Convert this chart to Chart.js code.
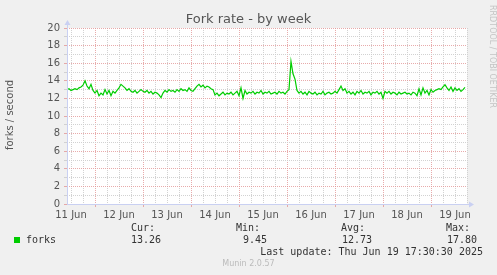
<!DOCTYPE html>
<html>
<head>
<meta charset="utf-8">
<title>Fork rate - by week</title>
<script src="https://cdn.jsdelivr.net/npm/chart.js@4.4.1/dist/chart.umd.min.js"></script>
<style>
    body { margin: 0; background: #f0f0f0; }
    #wrap { position: relative; width: 497px; height: 275px; overflow: hidden; font-family: "DejaVu Sans", sans-serif; }
    #forkChart { position: absolute; left: 0; top: 0; }
    .txt { position: absolute; white-space: pre; }
    .mono { font-family: "DejaVu Sans Mono", monospace; font-size: 10px; color: #333; line-height: 12px; }
    .r { text-align: right; }
</style>
</head>
<body>
<div id="wrap">
    <canvas id="forkChart" width="497" height="275"></canvas>
    <div class="txt" style="left:0;width:497px;top:11px;text-align:center;font-size:13px;color:#555;line-height:16px;">Fork rate - by week</div>
    <div class="txt" style="left:10px;top:115px;font-size:10px;color:#555;line-height:12px;transform:translate(-50%,-50%) rotate(-90deg);">forks / second</div>
    <div class="txt" style="left:487px;top:5px;font-size:8px;color:#c4c4c4;line-height:10px;writing-mode:vertical-rl;">RRDTOOL / TOBI OETIKER</div>

    <div class="txt" style="left:14px;top:237px;width:6px;height:6px;background:#00cc00;"></div>
    <div class="txt mono" style="left:26px;top:234px;">forks</div>
    <div class="txt mono r" style="right:342px;top:222px;">Cur:</div>
    <div class="txt mono r" style="right:336px;top:234px;">13.26</div>
    <div class="txt mono r" style="right:237px;top:222px;">Min:</div>
    <div class="txt mono r" style="right:230px;top:234px;">9.45</div>
    <div class="txt mono r" style="right:132px;top:222px;">Avg:</div>
    <div class="txt mono r" style="right:125px;top:234px;">12.73</div>
    <div class="txt mono r" style="right:27px;top:222px;">Max:</div>
    <div class="txt mono r" style="right:20px;top:234px;">17.80</div>
    <div class="txt mono r" style="right:14px;top:246px;">Last update: Thu Jun 19 17:30:30 2025</div>
    <div class="txt" style="left:0;width:497px;top:259px;text-align:center;font-size:8px;color:#bbbbbb;line-height:10px;">Munin 2.0.57</div>
</div>

<script>
// hours counted from 11 Jun 00:00
const START_HOUR = 10;
const END_HOUR = 210;

// forks per second, one value per hour starting at START_HOUR
const forks = [
    13.0, 13.1, 12.9, 13.0, 13.1, 13.0, 13.2, 13.3, 13.5, 14.0,
    13.4, 13.1, 13.6, 12.9, 12.6, 12.9, 12.3, 12.6, 12.4, 13.0,
    12.5, 12.9, 12.3, 12.8, 12.6, 12.9, 13.2, 13.6, 13.4, 13.2,
    12.9, 13.1, 12.8, 12.7, 12.9, 12.6, 12.8, 13.0, 12.8, 12.7,
    12.9, 12.6, 12.8, 12.5, 12.7, 12.6, 12.4, 12.1, 12.6, 12.9,
    12.7, 13.0, 12.8, 12.9, 12.7, 13.0, 12.8, 13.1, 12.9, 13.0,
    12.8, 13.2, 12.9, 12.8, 13.1, 13.4, 13.6, 13.3, 13.5, 13.2,
    13.4, 13.3, 13.1, 13.0, 12.4, 12.6, 12.3, 12.5, 12.7, 12.4,
    12.6, 12.5, 12.7, 12.4, 12.6, 12.8, 12.3, 13.2, 12.0, 12.9,
    12.5, 12.7, 12.6, 12.8, 12.5, 12.7, 12.6, 12.9, 12.5, 12.7,
    12.6, 12.8, 12.5, 12.6, 12.7, 12.5, 12.8, 12.6, 12.7, 12.5,
    12.8, 13.0, 16.2, 14.8, 14.2, 12.9, 12.6, 12.8, 12.5, 12.7,
    12.4, 12.8, 12.6, 12.5, 12.7, 12.4, 12.6, 12.5, 12.8, 12.4,
    12.6, 12.7, 12.5, 12.6, 12.8, 12.6, 13.0, 13.4, 12.9, 13.1,
    12.6, 12.8, 12.5, 12.7, 12.4, 12.8, 12.6, 12.9, 12.5, 12.7,
    12.6, 12.8, 12.4, 12.7, 12.6, 12.8, 12.5, 12.7, 12.0, 12.8,
    12.6, 12.8, 12.5, 12.7, 12.6, 12.4, 12.7, 12.5, 12.6, 12.7,
    12.5, 12.6, 12.4, 12.7, 12.6, 12.3, 13.1, 12.4, 13.2, 12.6,
    12.9, 12.4, 13.0, 12.7, 12.9, 13.0, 13.1, 13.0, 13.3, 13.55,
    13.2, 12.9, 13.3, 12.8, 13.2, 12.9, 13.1, 12.8, 13.0, 13.26
];

const dayLabels = ['11 Jun', '12 Jun', '13 Jun', '14 Jun', '15 Jun', '16 Jun', '17 Jun', '18 Jun', '19 Jun'];
const yTicks = [0, 2, 4, 6, 8, 10, 12, 14, 16, 18, 20];

const MAJOR = 'rgba(226, 150, 150, 0.8)';
const MINOR = 'rgba(205, 205, 205, 0.9)';
const AXIS = '#c9d0f2';

document.addEventListener("DOMContentLoaded", function() {
    const ctx = document.getElementById('forkChart').getContext('2d');

    const munin = {
        id: 'munin',
        beforeDraw(chart) {
            const a = chart.chartArea;
            const c = chart.ctx;
            c.save();
            c.fillStyle = '#ffffff';
            c.fillRect(a.left, a.top, a.right - a.left, a.bottom - a.top);
            c.restore();
        },
        afterDraw(chart) {
            const a = chart.chartArea;
            const c = chart.ctx;
            c.save();
            c.strokeStyle = AXIS;
            c.fillStyle = AXIS;
            c.lineWidth = 1;
            c.beginPath();
            c.moveTo(a.left + 0.5, a.bottom + 0.5);
            c.lineTo(a.left + 0.5, a.top - 4);
            c.moveTo(a.left, a.bottom + 0.5);
            c.lineTo(a.right + 3, a.bottom + 0.5);
            c.stroke();
            // arrows
            c.beginPath();
            c.moveTo(a.left - 2.5, a.top - 3);
            c.lineTo(a.left + 3.5, a.top - 3);
            c.lineTo(a.left + 0.5, a.top - 8);
            c.closePath();
            c.fill();
            c.beginPath();
            c.moveTo(a.right + 2, a.bottom - 2.5);
            c.lineTo(a.right + 2, a.bottom + 3.5);
            c.lineTo(a.right + 7, a.bottom + 0.5);
            c.closePath();
            c.fill();
            c.restore();
        }
    };

    const forkChart = new Chart(ctx, {
        type: 'line',
        data: {
            datasets: [{
                label: 'forks',
                data: forks.map((v, i) => ({ x: START_HOUR + i, y: v })),
                borderColor: '#00cc00',
                borderWidth: 1.2,
                pointRadius: 0,
                tension: 0,
                fill: false
            }]
        },
        options: {
            responsive: false,
            animation: false,
            layout: { padding: { top: 28, right: 30, left: 0, bottom: 0 } },
            plugins: {
                legend: { display: false },
                tooltip: { enabled: false }
            },
            scales: {
                x: {
                    type: 'linear',
                    min: START_HOUR,
                    max: END_HOUR,
                    afterBuildTicks: function(scale) {
                        const t = [];
                        for (let h = 12; h <= END_HOUR; h += 6) t.push({ value: h });
                        scale.ticks = t;
                    },
                    afterFit: function(scale) { scale.height = 71; },
                    ticks: {
                        autoSkip: false,
                        maxRotation: 0,
                        padding: 2,
                        color: '#555',
                        font: { family: 'DejaVu Sans', size: 10 },
                        callback: function(value) {
                            if (value % 24 !== 12) return '';
                            return dayLabels[Math.floor(value / 24)] || '';
                        }
                    },
                    grid: {
                        color: c => (c.tick && c.tick.value % 24 === 0) ? MAJOR : MINOR,
                        tickColor: c => (c.tick && c.tick.value % 24 === 0) ? MAJOR : 'rgba(0,0,0,0)',
                        tickLength: 3,
                        lineWidth: 1
                    },
                    border: { display: false, dash: [1, 1] }
                },
                y: {
                    min: 0,
                    max: 20,
                    afterBuildTicks: function(scale) {
                        const t = [];
                        for (let v = 0; v <= 20; v++) t.push({ value: v });
                        scale.ticks = t;
                    },
                    afterFit: function(scale) { scale.width = 67; },
                    ticks: {
                        autoSkip: false,
                        padding: 4,
                        color: '#555',
                        font: { family: 'DejaVu Sans', size: 10 },
                        callback: value => yTicks.includes(value) ? String(value) : ''
                    },
                    grid: {
                        color: c => (c.tick && c.tick.value % 2 === 0) ? MAJOR : MINOR,
                        tickColor: c => (c.tick && c.tick.value % 2 === 0) ? MAJOR : MINOR,
                        tickLength: 3,
                        lineWidth: 1
                    },
                    border: { display: false, dash: [1, 1] }
                }
            }
        },
        plugins: [munin]
    });
});
</script>
</body>
</html>
